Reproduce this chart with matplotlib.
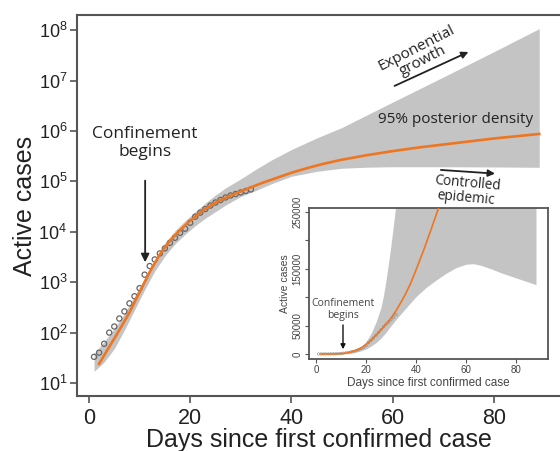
import matplotlib
matplotlib.use("Agg")
import matplotlib.pyplot as plt
import numpy as np

# observed active cases (days 1..32)
obs_days = np.arange(1, 33)
obs_cases = [33, 40, 60, 100, 132, 190, 263, 380, 525, 760, 1410, 2090, 2820,
             3720, 4680, 6030, 7590, 9550, 11500, 15100, 19950, 24000, 28200,
             33100, 38000, 42700, 47900, 52500, 56200, 60300, 64600, 69200]

# model median
med_days = [2, 4, 6, 8, 10, 12, 14, 16, 18, 20, 22, 24, 26, 28, 30, 32, 34,
            36, 38, 40, 43, 46, 50, 55, 60, 65, 70, 75, 80, 85, 89]
med_cases = [24, 52, 112, 251, 631, 1585, 3548, 6607, 10715, 16596, 23988,
             33113, 42658, 52481, 63096, 75858, 91201, 107152, 125893, 147911,
             181970, 218776, 269153, 331131, 398107, 467735, 537032, 616595,
             707946, 794328, 870964]

# 95% posterior density band (main panel)
band_days = [1, 3, 5, 7, 9, 11, 13, 15, 17, 19, 21, 23, 25, 27, 30, 33, 36,
             40, 45, 50, 55, 60, 70, 80, 89]
band_lower = [17, 26, 48, 112, 282, 708, 1660, 3310, 5750, 8910, 13200,
              18600, 25100, 33900, 50100, 66100, 89100, 126000, 158000,
              182000, 191000, 195000, 195000, 193000, 190000]
band_upper = [38, 66, 120, 240, 525, 1200, 2820, 6030, 10500, 16600, 25100,
              37200, 53700, 74100, 112000, 174000, 263000, 427000, 724000,
              1170000, 2090000, 3720000, 11700000, 37200000, 107000000]

# band as drawn in the linear inset
inset_days = [12, 15, 18, 20, 22, 24, 26, 27, 28, 29, 30, 31, 32, 33, 40, 44,
              48, 52, 56, 60, 63, 66, 70, 74, 78, 82, 86, 88]
inset_lower = [0, 2000, 5500, 9000, 14000, 20000, 28000, 33000, 38000, 44000,
               50000, 55000, 61000, 66000, 101000, 117000, 130000, 142000,
               152000, 158000, 159000, 156000, 150000, 143000, 137000, 131000,
               125000, 122000]
inset_upper = [0, 4000, 12000, 22000, 36000, 56000, 82000, 103000, 130000,
               160000, 192000, 228000, 265000, 305000, 400000, 400000, 400000,
               400000, 400000, 400000, 400000, 400000, 400000, 400000, 400000,
               400000, 400000, 400000]

orange = "#ee7621"
band_col = "#c4c4c4"
spine_col = "#555555"
txt_col = "#222222"

fig = plt.figure(figsize=(5.6, 4.51), dpi=100)
ax = fig.add_axes([77/560, 55/451, 483/560, 381/451])

ax.fill_between(band_days, band_lower, band_upper, color=band_col, lw=0)
ax.plot(med_days, med_cases, color=orange, lw=1.9, zorder=3)
ax.scatter(obs_days, obs_cases, s=14, facecolors="none", edgecolors="#666666",
           linewidths=0.9, zorder=2)

ax.set_yscale("log")
ax.set_xlim(-2.37, 93.1)
ax.set_ylim(10**0.742, 10**8.30)
ax.set_yticks([10**k for k in range(1, 9)])
ax.minorticks_off()
ax.set_xticks([0, 20, 40, 60, 80])
ax.spines["right"].set_visible(False)
for s in ["left", "bottom", "top"]:
    ax.spines[s].set_color(spine_col)
    ax.spines[s].set_linewidth(1.5)
ax.tick_params(axis="both", direction="out", length=5, width=1.2,
               color=spine_col, labelcolor=txt_col)
ax.tick_params(axis="y", labelsize=13, pad=2)
ax.tick_params(axis="x", labelsize=15.5, pad=4)
for lab in ax.get_xticklabels() + ax.get_yticklabels():
    lab.set_family("Liberation Sans")
ax.set_xlabel("Days since first confirmed case", fontsize=18,
              family="Liberation Sans", color=txt_col, labelpad=-1)
ax.set_ylabel("Active cases", fontsize=18, family="Liberation Sans",
              color=txt_col, labelpad=1)

afont = dict(family="Open Sans", color=txt_col)
ax.text(11.1, 10**5.76, "Confinement\nbegins", ha="center", va="center",
        fontsize=12.5, linespacing=1.2, **afont)
ax.annotate("", xy=(11.1, 10**3.34), xytext=(11.1, 10**5.07),
            arrowprops=dict(arrowstyle="-|>", color="#222222", lw=1.3,
                            mutation_scale=12))
ax.text(65.4, 10**7.52, "Exponential\ngrowth", ha="center", va="center",
        rotation=27, fontsize=11, linespacing=0.95, **afont)
ax.annotate("", xy=(75.5, 10**7.59), xytext=(59.9, 10**6.87),
            arrowprops=dict(arrowstyle="-|>", color="#222222", lw=1.3,
                            mutation_scale=10))
ax.text(72.5, 10**6.22, "95% posterior density", ha="center", va="center",
        fontsize=11, **afont)
ax.text(74.7, 10**4.81, "Controlled\nepidemic", ha="center", va="center",
        rotation=-5, fontsize=9.8, linespacing=1.0, **afont)
ax.annotate("", xy=(80.8, 10**5.15), xytext=(69.0, 10**5.23),
            arrowprops=dict(arrowstyle="-|>", color="#222222", lw=1.3,
                            mutation_scale=10))

# inset on linear scale
ins = fig.add_axes([309/560, 92/451, 239/560, 151/451])
ins.fill_between(inset_days, inset_lower, inset_upper, color=band_col, lw=0)
ins.plot(med_days, med_cases, color=orange, lw=1.2, zorder=3)
ins.scatter(obs_days, obs_cases, s=3, facecolors="none", edgecolors="#888888",
            linewidths=0.4, zorder=2)
ins.set_xlim(-2.8, 92.8)
ins.set_ylim(-8800, 257000)
ins.set_xticks([0, 20, 40, 60, 80])
ins.set_yticks([0, 50000, 100000, 150000, 200000, 250000])
ins.set_yticklabels(["0", "50000", "", "150000", "", "250000"],
                    rotation=90, va="center")
for s in ins.spines.values():
    s.set_color(spine_col)
    s.set_linewidth(1.3)
ins.tick_params(axis="both", direction="out", length=3, width=0.8,
                color=spine_col, labelcolor="#444444", labelsize=7, pad=1.5)
for lab in ins.get_xticklabels() + ins.get_yticklabels():
    lab.set_family("Liberation Sans")
ins.set_xlabel("Days since first confirmed case", fontsize=8.5,
               family="Liberation Sans", color="#444444", labelpad=1)
ins.set_ylabel("Active cases", fontsize=7.5, family="Liberation Sans",
               color="#444444", labelpad=2)
ins.text(10.8, 79000, "Confinement\nbegins", ha="center", va="center",
         fontsize=7.5, linespacing=1.1, family="Open Sans", color="#444444")
ins.annotate("", xy=(10.8, 3500), xytext=(10.8, 56000),
             arrowprops=dict(arrowstyle="-|>", color="#111111", lw=1.0,
                             mutation_scale=7))

fig.savefig("out.png", dpi=100)
